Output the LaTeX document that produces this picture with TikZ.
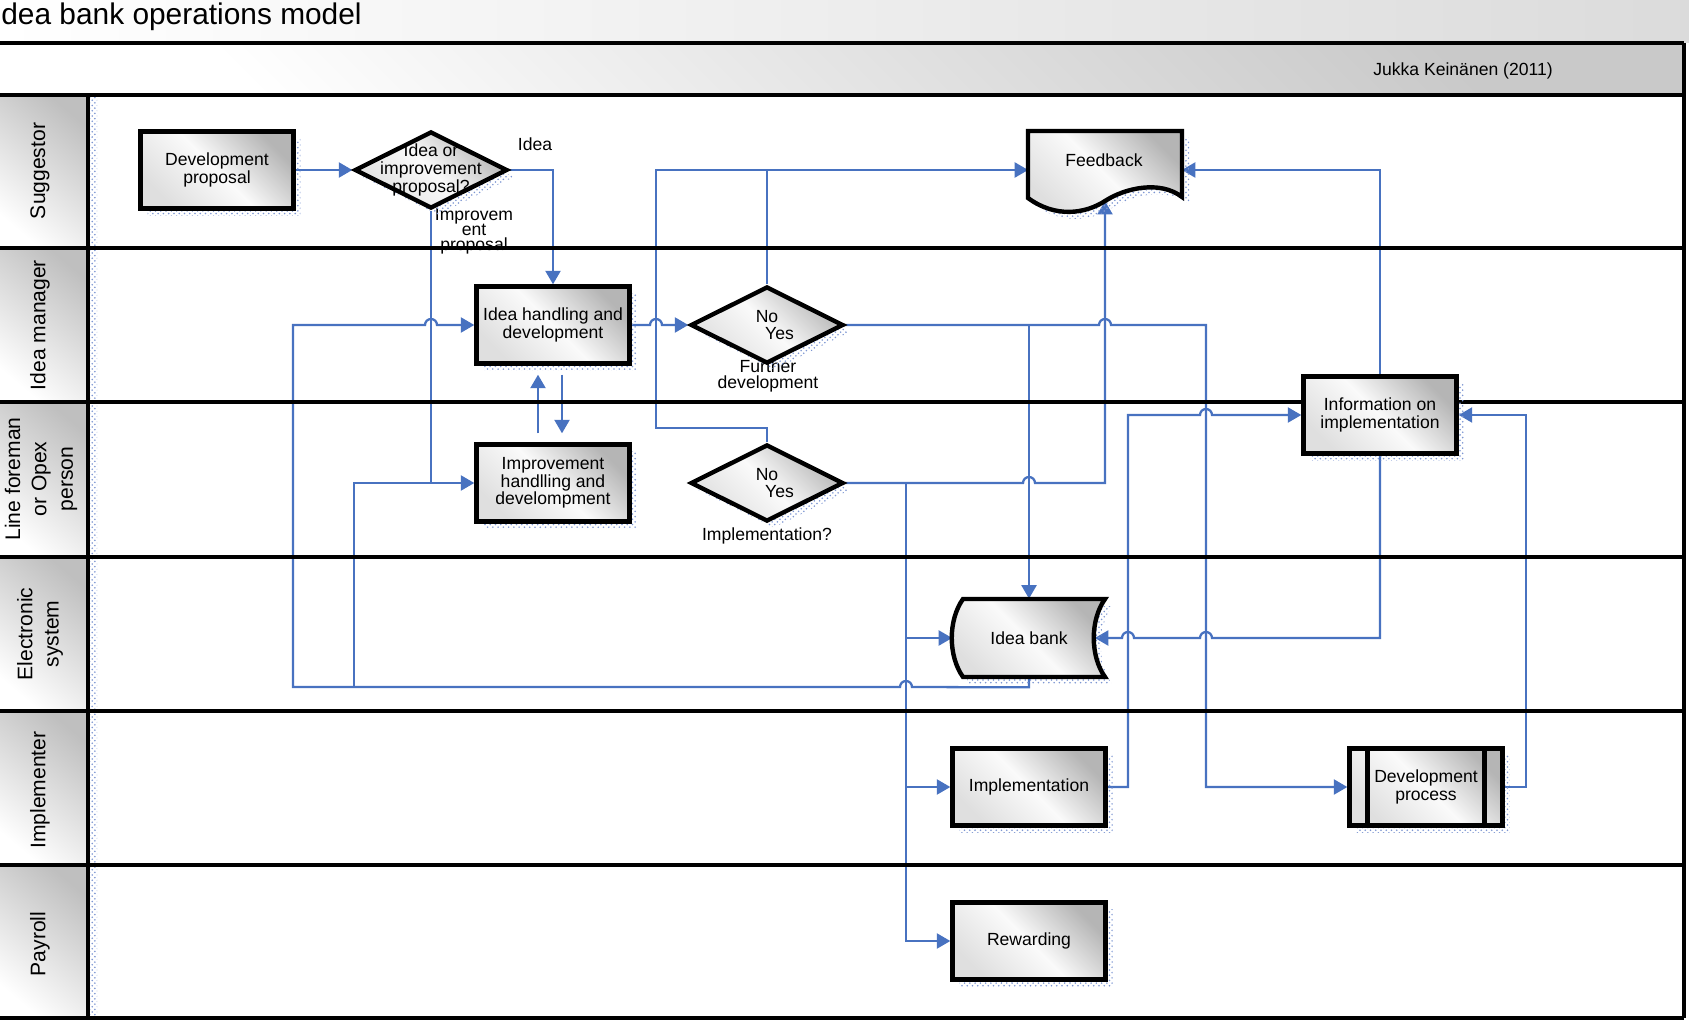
\documentclass[tikz,border=0pt]{standalone}
\usepackage{fontspec}
\setmainfont{Liberation Sans}
\usetikzlibrary{arrows.meta,shapes.geometric,shadows,patterns}
\pgfdeclarelayer{back}\pgfdeclarelayer{wires}\pgfdeclarelayer{lanes}
\pgfsetlayers{back,wires,lanes,main}
\definecolor{wireblue}{RGB}{72,114,192}
\definecolor{hatchblue}{RGB}{125,150,210}
\newcommand{\hopR}[1]{-- ([xshift=-.12cm]#1) arc[start angle=180,end angle=0,radius=.12cm]}
\newcommand{\hopL}[1]{-- ([xshift=.12cm]#1) arc[start angle=0,end angle=180,radius=.12cm]}
\tikzset{
  shapefill/.style={draw,line width=2.5pt,top color=gray!58,bottom color=gray!25,middle color=gray!4,shading angle=-45,
    general shadow={shadow xshift=.14cm,shadow yshift=-.14cm,pattern=crosshatch dots,pattern color=hatchblue}},
  box/.style={shapefill,rectangle,minimum width=3.06cm,minimum height=1.54cm,align=center,font=\fontsize{10}{10}\selectfont},
  decision/.style={box,diamond,inner sep=0pt},
  dectext/.style={align=center,inner sep=0pt,font=\fontsize{10}{10}\selectfont},
  anchorbox/.style={rectangle,minimum width=3.06cm,minimum height=1.56cm,align=center,font=\fontsize{10}{10}\selectfont},
  predef/.style={path picture={\draw[line width=2.5pt] ([xshift=.36cm]path picture bounding box.north west)--([xshift=.36cm]path picture bounding box.south west) ([xshift=-.36cm]path picture bounding box.north east)--([xshift=-.36cm]path picture bounding box.south east);}},
  wire/.style={draw=wireblue,line width=1.3pt},
  lbl/.style={align=center,inner sep=0pt,font=\fontsize{10}{8.6}\selectfont},
  lanehead/.style={rotate=90,align=center,font=\fontsize{12}{15}\selectfont},
  laneline/.style={line width=2.8pt},
  headcell/.style={top color=gray!50,bottom color=white,shading angle=-40}
}
\begin{document}
\begin{tikzpicture}[x=.02cm,y=-.02cm,>={Triangle[length=.27cm,width=.3cm]}]
\useasboundingbox (0,0) rectangle (1689,1020);
\begin{pgfonlayer}{back}
  \shade[left color=white,right color=gray!28] (0,0) rectangle (1689,43);
  \shade[top color=gray!42,bottom color=white,shading angle=-45] (0,43) rectangle (1684,95);
  \foreach \ya/\yb in {95/248,248/402,402/557,557/711,711/865,865/1018}
    \shade[headcell] (0,\ya) rectangle (88,\yb);
  \fill[pattern=crosshatch dots,pattern color=hatchblue] (89,95) rectangle (97,1018);
\end{pgfonlayer}
\begin{pgfonlayer}{lanes}
  \foreach \y in {43,95,248,402,557,711,865,1018} \draw[laneline] (0,\y) -- (1684,\y);
  \draw[laneline] (88,95) -- (88,1018) (1684,43) -- (1684,1018);
\end{pgfonlayer}

\node[anchor=west,inner sep=0pt,font=\fontsize{17}{17}\selectfont] (title) at (1,17) {dea bank operations model};
\node[font=\fontsize{10}{10}\selectfont] (author) at (1463,71) {Jukka Keinänen (2011)};

\node[lanehead] (lsugg) at (40,171) {Suggestor};
\node[lanehead] (lmgr) at (40,325) {Idea manager};
\node[lanehead] (lline) at (41,479) {Line foreman\\or Opex\\person};
\node[lanehead] (lsys) at (40,634) {Electronic\\system};
\node[lanehead] (limpl) at (40,790) {Implementer};
\node[lanehead] (lpay) at (40,944) {Payroll};

\node[box] (devprop) at (217,170) {Development\\proposal};
\node[decision] (dec1) at (431,170) {};
\node[dectext] (dec1txt) at (dec1) {Idea or\\improvement\\proposal?};
\node[box] (ideahand) at (553,325) {Idea handling and\\development};
\node[decision] (dec2) at (767,325) {};
\node[dectext] (dec2txt) at (dec2) {No\\\hspace*{.5cm}Yes};
\node[box] (imphand) at (553,483) {Improvement\\handlling and\\develompment};
\node[decision] (dec3) at (767,483) {};
\node[dectext] (dec3txt) at (dec3) {No\\\hspace*{.5cm}Yes};
\node[box] (infoimpl) at (1380,415) {Information on\\implementation};
\node[box] (implementation) at (1029,787) {Implementation};
\node[box,predef] (devprocess) at (1426,787) {Development\\process};
\node[box] (rewarding) at (1029,941) {Rewarding};

\path[shapefill] (1028,131) -- (1182,131) -- (1182,197) .. controls (1160,180) and (1125,188) .. (1105,201)
  .. controls (1085,214) and (1055,218) .. (1028,198) -- cycle;
\node[anchorbox] (feedback) at (1105,170) {};
\node[dectext] (fbtext) at (1104,160) {Feedback};
\coordinate (fbwave) at (1105,201);

\path[shapefill] (963,599) -- (1105,599) .. controls (1090,620) and (1090,656) .. (1105,677)
  -- (963,677) .. controls (948,656) and (948,620) .. (963,599) -- cycle;
\node[anchorbox] (ideabank) at (1029,638) {Idea bank};

\begin{pgfonlayer}{wires}
  \node[lbl] (idealbl) at (535,144) {Idea};
  \node[lbl] (improvlbl) at (474,231) {Improvem\\ent\\proposal};
  \node[lbl] (furtherlbl) at (768,376) {Further\\development};
  \node[lbl] (implq) at (767,536) {Implementation?};

  \coordinate (loopsplit) at (354,687);
  \coordinate (banksplit) at (1029,325);
  \coordinate (paysplit) at (906,483);

  \draw[wire,->] (devprop) -- (dec1);
  \draw[wire,->] (dec1.east) -| (ideahand.north);
  \draw[wire] (dec1.south) -- (dec1.south |- imphand.west);
  \draw[wire,->] (ideabank.south) -- ++(0,10) \hopL{906,687} -- (293,687) -- (293,325) \hopR{431,325} -- (ideahand.west);
  \draw[wire,->] (loopsplit) |- (imphand.west);
  \draw[wire,->] (ideahand.east) \hopR{656,325} -- (dec2.west);
  \draw[wire] (dec2.north) -- (dec2.north |- feedback.west);
  \draw[wire,->] (dec3.north) |- (656,428) |- (feedback.west);
  \draw[wire,->] (dec2.east) -- (banksplit) \hopR{1105,325} -- (1206,325) |- (devprocess.west);
  \draw[wire,->] (banksplit) -- (ideabank.north);
  \draw[wire,->] (dec3.east) -- (paysplit) \hopR{1029,483} -- (1105,483) -- (fbwave);
  \draw[wire,->] (paysplit) |- (rewarding.west);
  \draw[wire,->] (paysplit |- ideabank.west) -- (ideabank.west);
  \draw[wire,->] (paysplit |- implementation.west) -- (implementation.west);
  \draw[wire,->] (implementation.east) -- (1128,787) -- (1128,415) \hopR{1206,415} -- (infoimpl.west);
  \draw[wire,->] (infoimpl.north) |- (feedback.east);
  \draw[wire,->] (infoimpl.south) -- (1380,638) \hopL{1206,638} \hopL{1128,638} -- ([xshift=-.22cm]ideabank.east);
  \draw[wire,->] (devprocess.east) -| (1526,415) -- (infoimpl.east);
  \draw[wire,->,shorten <=.18cm,shorten >=.18cm] ([xshift=-.3cm]imphand.north) -- ([xshift=-.3cm]ideahand.south);
  \draw[wire,->,shorten <=.18cm,shorten >=.18cm] ([xshift=.18cm]ideahand.south) -- ([xshift=.18cm]imphand.north);
\end{pgfonlayer}
\end{tikzpicture}
\end{document}
